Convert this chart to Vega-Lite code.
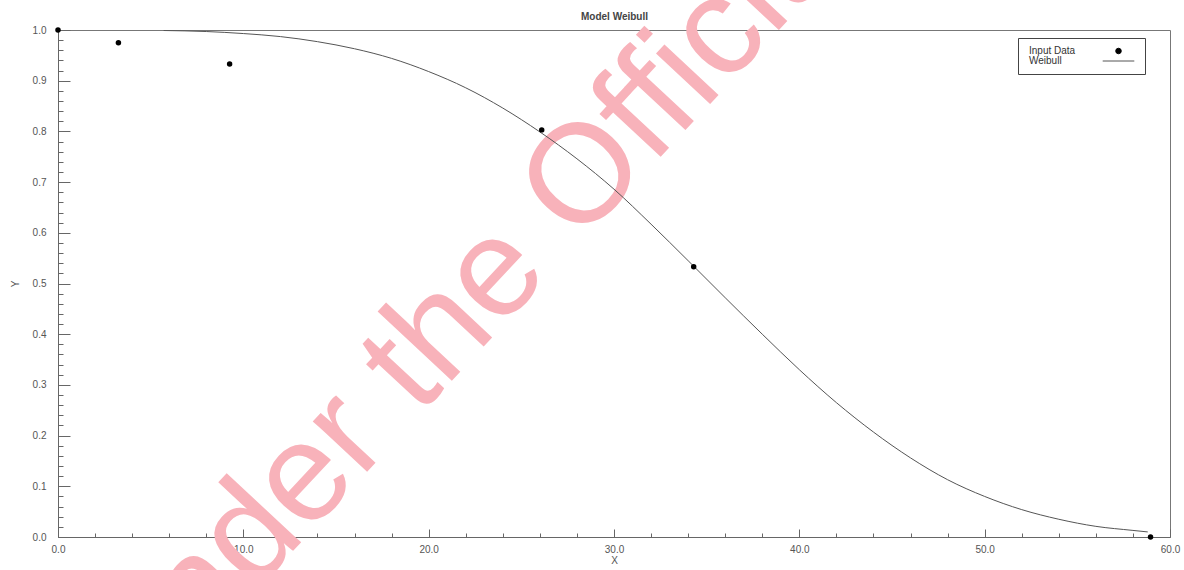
{
  "$schema": "https://vega.github.io/schema/vega-lite/v6.json",
  "autosize": "none",
  "width": 1112,
  "height": 507,
  "padding": {"left": 58, "top": 30, "right": 14, "bottom": 33},
  "background": "white",
  "config": {
    "view": {"stroke": "#777", "strokeWidth": 1},
    "axis": {"labelFont": "Liberation Sans", "titleFont": "Liberation Sans", "labelFontSize": 10, "labelColor": "#555", "titleColor": "#555", "titleFontSize": 10, "titleFontWeight": "normal", "domainColor": "#666", "tickColor": "#666", "grid": false, "labelFlush": false, "labelOverlap": false}
  },
  "resolve": {"axis": {"x": "independent"}},
  "layer": [
    {
      "data": {"values": [{"x": 22.2, "y": 0.467, "t": "Under the Official"}]},
      "mark": {"type": "text", "angle": -47, "align": "center", "baseline": "middle", "fontSize": 140, "font": "Liberation Sans", "color": "#f8b2ba"},
      "encoding": {
        "x": {"field": "x", "type": "quantitative", "title": "Model Weibull",
          "axis": {"orient": "top", "ticks": false, "labels": false, "domain": false, "grid": false,
            "titleFontWeight": "bold", "titleColor": "#444", "titleFontSize": 10, "titlePadding": 9}},
        "y": {"field": "y", "type": "quantitative"},
        "text": {"field": "t"}
      }
    },
    {
      "data": {"values": [
        {"x": 5.7, "y": 0.999}, {"x": 8, "y": 0.997}, {"x": 10, "y": 0.993}, {"x": 12, "y": 0.987},
        {"x": 14, "y": 0.977}, {"x": 16, "y": 0.963}, {"x": 18, "y": 0.944}, {"x": 20, "y": 0.918},
        {"x": 22, "y": 0.886}, {"x": 24, "y": 0.846}, {"x": 26, "y": 0.799}, {"x": 28, "y": 0.746},
        {"x": 30, "y": 0.686}, {"x": 32, "y": 0.617}, {"x": 34, "y": 0.545}, {"x": 36, "y": 0.472},
        {"x": 38, "y": 0.400}, {"x": 40, "y": 0.330}, {"x": 42, "y": 0.265}, {"x": 44, "y": 0.207},
        {"x": 46, "y": 0.156}, {"x": 48, "y": 0.113}, {"x": 50, "y": 0.080}, {"x": 52, "y": 0.054},
        {"x": 54, "y": 0.035}, {"x": 56, "y": 0.021}, {"x": 58, "y": 0.013}, {"x": 58.8, "y": 0.010}
      ]},
      "mark": {"type": "line", "strokeWidth": 1, "interpolate": "monotone"},
      "encoding": {
        "x": {"field": "x", "type": "quantitative", "title": "X",
          "scale": {"domain": [0, 60], "nice": false, "zero": false},
          "axis": {
            "orient": "bottom",
            "values": [0,2,4,6,8,10,12,14,16,18,20,22,24,26,28,30,32,34,36,38,40,42,44,46,48,50,52,54,56,58,60],
            "tickCount": 100,
            "labelExpr": "datum.value % 10 === 0 ? format(datum.value, '.1f') : ''",
            "tickSize": {"condition": {"test": "datum.value % 10 === 0", "value": -8}, "value": -4},
            "labelPadding": 15,
            "titlePadding": -3
          }
        },
        "y": {"field": "y", "type": "quantitative", "title": "Y",
          "scale": {"domain": [0, 1], "nice": false, "zero": false},
          "axis": {
            "values": [0,0.02,0.04,0.06,0.08,0.1,0.12,0.14,0.16,0.18,0.2,0.22,0.24,0.26,0.28,0.3,0.32,0.34,0.36,0.38,0.4,0.42,0.44,0.46,0.48,0.5,0.52,0.54,0.56,0.58,0.6,0.62,0.64,0.66,0.68,0.7,0.72,0.74,0.76,0.78,0.8,0.82,0.84,0.86,0.88,0.9,0.92,0.94,0.96,0.98,1],
            "tickCount": 200,
            "labelExpr": "abs(datum.value*10 - round(datum.value*10)) < 0.001 ? format(datum.value, '.1f') : ''",
            "tickSize": {"condition": {"test": "abs(datum.value*10 - round(datum.value*10)) < 0.001", "value": -12}, "value": -5},
            "labelPadding": 24,
            "titlePadding": 12
          }
        },
        "color": {"datum": "Weibull", "type": "nominal",
          "scale": {"domain": ["Input Data", "Weibull"], "range": ["black", "#555"]},
          "legend": {
            "orient": "none", "legendX": 960, "legendY": 8, "title": null,
            "padding": 8, "strokeColor": "#444", "fillColor": "white",
            "labelFont": "Liberation Sans", "labelFontSize": 10, "labelColor": "#333",
            "symbolSize": 30, "symbolOffset": 87.5, "labelOffset": -94.5, "rowPadding": 0,
            "encode": {"symbols": {"update": {
              "shape": {"signal": "datum.value === 'Weibull' ? 'stroke' : 'circle'"},
              "size": {"signal": "datum.value === 'Weibull' ? 1000 : 30"},
              "fill": {"signal": "datum.value === 'Weibull' ? 'transparent' : 'black'"},
              "stroke": {"signal": "datum.value === 'Weibull' ? '#555' : 'black'"},
              "strokeWidth": {"value": 1},
              "opacity": {"value": 1}
            }}}
          }
        }
      }
    },
    {
      "data": {"values": [
        {"x": 0, "y": 1.0}, {"x": 3.26, "y": 0.975}, {"x": 9.26, "y": 0.933},
        {"x": 26.1, "y": 0.803}, {"x": 34.3, "y": 0.533}, {"x": 58.95, "y": 0.0}
      ]},
      "mark": {"type": "point", "filled": true, "size": 30, "opacity": 1},
      "encoding": {
        "x": {"field": "x", "type": "quantitative", "axis": null},
        "y": {"field": "y", "type": "quantitative"},
        "color": {"datum": "Input Data", "type": "nominal"}
      }
    }
  ]
}
